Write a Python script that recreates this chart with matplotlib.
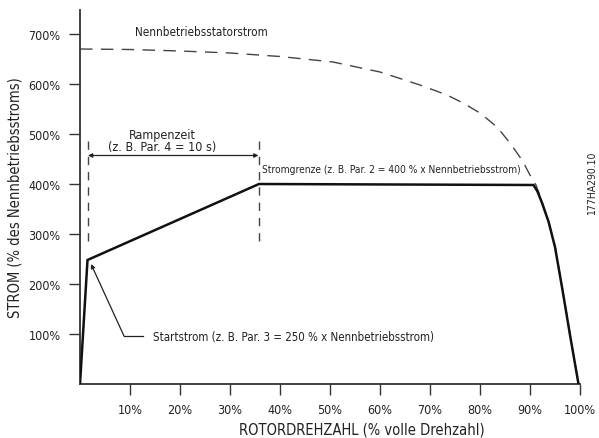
import matplotlib
matplotlib.use("Agg")
import matplotlib.pyplot as plt

plt.rcParams['font.family'] = ['DejaVu Sans']
plt.rcParams['font.stretch'] = 'condensed'

# Data
x_ticks = [10, 20, 30, 40, 50, 60, 70, 80, 90, 100]
x_ticklabels = ["10%", "20%", "30%", "40%", "50%", "60%", "70%", "80%", "90%", "100%"]
y_ticks = [100, 200, 300, 400, 500, 600, 700]
y_ticklabels = ["100%", "200%", "300%", "400%", "500%", "600%", "700%"]

# Motor current (solid)
speed_current = [0, 1.5, 35.8, 90.7, 91.5, 92.3, 93.7, 95, 96.6, 98, 99.7]
current = [0, 248, 400, 398, 385, 365, 325, 274, 182, 98, 0]

# Rated stator current (dashed)
speed_stator = [0, 10, 20, 30, 40, 50.6, 60, 68, 73.4, 76.6, 80, 83.4, 86, 88.4, 90, 91.2, 92.3, 93.7, 95, 96.6, 98, 99.7]
stator = [670, 669, 666, 662, 655, 644, 624, 598, 578, 562, 542, 514, 482, 448, 418, 398, 368, 326, 276, 184, 100, 0]

fig = plt.figure(figsize=(5.99, 4.39), dpi=100)
ax = fig.add_axes([80/599, 1-385/439, 500/599, 374/439])
ax.set_xlim(0, 100)
ax.set_ylim(0, 748)

ax.plot(speed_stator, stator, color='#444444', lw=1.0, dashes=(9, 6), zorder=2)
ax.plot(speed_current, current, color='#111111', lw=1.8, zorder=3, solid_joinstyle='miter')

for s in ['top', 'right']:
    ax.spines[s].set_visible(False)
for s in ['left', 'bottom']:
    ax.spines[s].set_color('#333333')
    ax.spines[s].set_linewidth(1.3)

ax.set_xticks(x_ticks)
ax.set_xticklabels(x_ticklabels)
ax.set_yticks(y_ticks)
ax.set_yticklabels(y_ticklabels)
ax.tick_params(axis='both', direction='out', length=8, width=1.0, color='#333333',
               labelsize=9, labelcolor='#222222', pad=6)
ax.tick_params(axis='x', pad=6)

ax.set_xlabel("ROTORDREHZAHL (% volle Drehzahl)", fontsize=10.5, color='#222222', labelpad=7)
ax.xaxis.set_label_coords(0.564, -0.1)
ax.set_ylabel("STROM (% des Nennbetriebsstroms)", fontsize=10.5, color='#222222', labelpad=4)

# Dashed vertical markers
for xv in [1.5, 35.8]:
    ax.plot([xv, xv], [287, 488], color='#444444', lw=1.0, dashes=(6, 5))

# Ramp-time double arrow
ax.annotate("", xy=(1.6, 457), xytext=(35.7, 457),
            arrowprops=dict(arrowstyle='<|-|>', color='#222222', lw=0.9,
                            mutation_scale=6, shrinkA=0, shrinkB=0))
ax.text(16.4, 500, "Rampenzeit", ha='center', va='center', fontsize=9, color='#222222')
ax.text(16.4, 476, "(z. B. Par. 4 = 10 s)", ha='center', va='center', fontsize=9, color='#222222')

ax.text(36.5, 430, "Stromgrenze (z. B. Par. 2 = 400 % x Nennbetriebsstrom)", ha='left', va='center',
        fontsize=7.3, color='#222222')
ax.text(11, 704, "Nennbetriebsstatorstrom", ha='left', va='center', fontsize=8.4, color='#222222')
ax.text(14.6, 96, "Startstrom (z. B. Par. 3 = 250 % x Nennbetriebsstrom)", ha='left', va='center',
        fontsize=8.3, color='#222222')

# Leader line to start current
ax.plot([12.6, 8.8], [96, 96], color='#222222', lw=0.9)
ax.annotate("", xy=(2.2, 240), xytext=(8.8, 96),
            arrowprops=dict(arrowstyle='-|>', color='#222222', lw=0.9,
                            mutation_scale=6, shrinkA=0, shrinkB=0))

fig.text(592/599, 1-183/439, "177HA290.10", rotation=90, ha='center', va='center',
         fontsize=7.5, color='#222222')

fig.savefig("out.png", dpi=100)
